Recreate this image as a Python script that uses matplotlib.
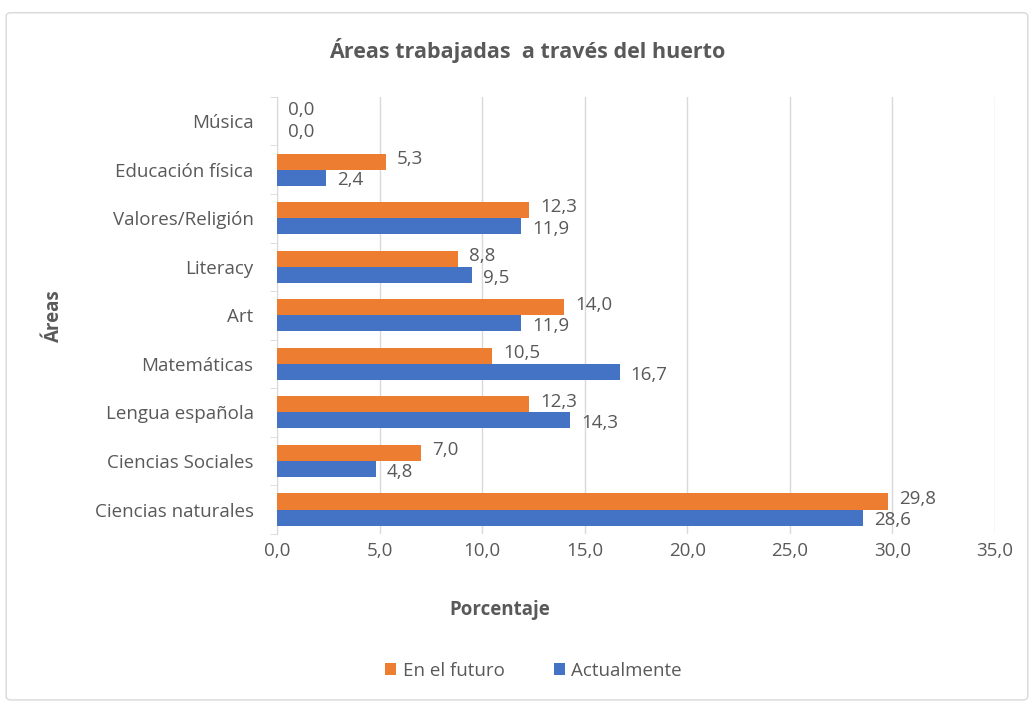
import matplotlib
matplotlib.use("Agg")
import matplotlib.pyplot as plt
from matplotlib.patches import FancyBboxPatch
import numpy as np

categories = ["Ciencias naturales", "Ciencias Sociales", "Lengua española", "Matemáticas",
              "Art", "Literacy", "Valores/Religión", "Educación física", "Música"]
futuro = [29.8, 7.0, 12.3, 10.5, 14.0, 8.8, 12.3, 5.3, 0.0]
actual = [28.6, 4.8, 14.3, 16.7, 11.9, 9.5, 11.9, 2.4, 0.0]
xticks = [0, 5, 10, 15, 20, 25, 30, 35]

plt.rcParams['font.family'] = ['Open Sans', 'DejaVu Sans']
txt = '#595959'
orange = '#ED7D31'
blue = '#4472C4'
fs = 13.5

fig = plt.figure(figsize=(10.34, 7.07), dpi=100)
ax = fig.add_axes([0.268, 0.245, 0.694, 0.618])

y = np.arange(len(categories))
h = 0.33
bo = ax.barh(y + h/2, futuro, height=h, color=orange, label='En el futuro', zorder=3)
ba = ax.barh(y - h/2, actual, height=h, color=blue, label='Actualmente', zorder=3)

def fmt(v):
    return f"{v:.1f}".replace('.', ',')

for yi, v in zip(y, futuro):
    ax.annotate(fmt(v), (v, yi + h/2), xytext=(8, 2), textcoords='offset points',
                va='center', ha='left', color=txt, fontsize=fs)
for yi, v in zip(y, actual):
    ax.annotate(fmt(v), (v, yi - h/2), xytext=(8, -2), textcoords='offset points',
                va='center', ha='left', color=txt, fontsize=fs)

ax.set_xlim(0, 35)
ax.set_ylim(-0.5, len(categories) - 0.5)
ax.set_xticks(xticks)
ax.set_xticklabels([fmt(v) for v in xticks], color=txt, fontsize=fs)
ax.set_yticks(y)
ax.set_yticklabels(categories, color=txt, fontsize=fs)
ax.set_yticks(np.arange(-0.5, len(categories), 1), minor=True)
ax.tick_params(axis='y', which='major', length=0, pad=17)
ax.tick_params(axis='y', which='minor', length=5, color='#D9D9D9', direction='out')
ax.tick_params(axis='x', length=0, pad=6)
ax.grid(axis='x', color='#D9D9D9', linewidth=1, zorder=0)
for s in ['top', 'right', 'bottom']:
    ax.spines[s].set_visible(False)
ax.spines['left'].set_color('#D9D9D9')

ax.set_xlabel('Porcentaje', color=txt, fontsize=fs, fontweight='bold')
ax.xaxis.set_label_coords((500 - 277) / 718, -(600 - 534) / 437)
ax.set_ylabel('Áreas', color=txt, fontsize=fs, fontweight='bold')
ax.yaxis.set_label_coords(-(277 - 64) / 718, 0.5)

fig.text(0.51, 0.928, 'Áreas trabajadas  a través del huerto', ha='center', va='center',
         color=txt, fontsize=15.5, fontweight='bold')

leg = fig.legend(handles=[bo, ba], loc='center', bbox_to_anchor=(0.516, 0.051), ncol=2,
                 frameon=False, fontsize=fs, handlelength=0.6, handleheight=0.6,
                 handletextpad=0.35, columnspacing=2.6)
for t in leg.get_texts():
    t.set_color(txt)

border = FancyBboxPatch((0.006, 0.01), 0.988, 0.972, boxstyle='round,pad=0,rounding_size=0.005',
                        transform=fig.transFigure, fill=False, edgecolor='#D9D9D9', linewidth=1)
fig.patches.append(border)

fig.savefig('out.png', dpi=100)
